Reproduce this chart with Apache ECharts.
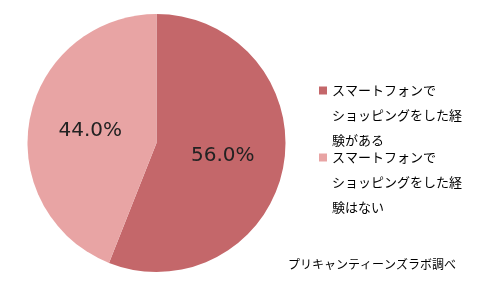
<!DOCTYPE html>
<html><head><meta charset="utf-8">
<script src="https://cdn.jsdelivr.net/npm/echarts@6/dist/echarts.min.js"></script>
<style>html,body{margin:0;padding:0;background:#fff}#c{width:480px;height:288px}</style>
</head><body><div id="c"></div>
<script>
const categories = ['スマートフォンで\nショッピングをした経\n験がある', 'スマートフォンで\nショッピングをした経\n験はない'];
const values = [56.0, 44.0];
const colors = ['#C4676A', '#E8A4A4'];
const sourceText = 'プリキャンティーンズラボ調べ';

const chart = echarts.init(document.getElementById('c'), null, {renderer: 'canvas'});
chart.setOption({
  animation: false,
  title: {
    text: sourceText,
    left: 288, top: 258, padding: 0,
    textStyle: {fontFamily: 'Noto Sans CJK JP', fontSize: 12, fontWeight: 'normal', color: '#000'}
  },
  legend: {
    orient: 'vertical',
    left: 319, top: 28, padding: 0,
    itemWidth: 8, itemHeight: 8,
    itemGap: -58,
    icon: 'rect',
    data: categories,
    formatter: name => '\n\n' + name,
    textStyle: {fontFamily: 'Noto Sans CJK JP', fontSize: 13, lineHeight: 25, color: '#000'}
  },
  series: [{
    type: 'pie',
    center: [156.5, 143],
    radius: [0, 129],
    startAngle: 90,
    clockwise: true,
    avoidLabelOverlap: false,
    itemStyle: {borderWidth: 0},
    label: {
      position: 'inside',
      formatter: p => p.value.toFixed(1) + '%',
      fontFamily: 'DejaVu Sans', fontSize: 20, color: '#222'
    },
    labelLine: {show: false},
    data: categories.map((c, i) => ({
      name: c, value: values[i],
      itemStyle: {color: colors[i]}
    }))
  }]
});
</script></body></html>
